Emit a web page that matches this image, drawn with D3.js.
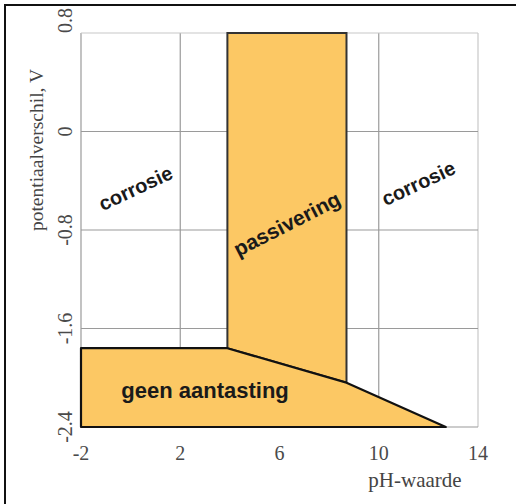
<!DOCTYPE html>
<html lang="nl">
<head>
    <meta charset="UTF-8">
    <title>Pourbaix diagram</title>
    <script src="https://cdnjs.cloudflare.com/ajax/libs/d3/7.8.5/d3.min.js"></script>
    <style>
        body { margin: 0; background: #fff; }
        svg { display: block; }
    </style>
</head>
<body>
    <div id="chart"></div>
    <script>
        // Data
        const xTicks = [-2, 2, 6, 10, 14];
        const yTicks = [0.8, 0, -0.8, -1.6, -2.4];
        const yTickLabels = ["0.8", "0", "-0.8", "-1.6", "-2.4"];

        // regions [pH, V]
        const passivering = [[3.9, 0.8], [8.7, 0.8], [8.7, -2.04], [3.9, -1.76]];
        const geenAantasting = [[-2, -1.76], [3.9, -1.76], [8.7, -2.04], [12.7, -2.4], [-2, -2.4]];

        const labels = [
            { text: "corrosie", x: 0.2, y: -0.46, angle: -25, size: 20 },
            { text: "corrosie", x: 11.6, y: -0.42, angle: -25, size: 20 },
            { text: "passivering", x: 6.3, y: -0.75, angle: -27, size: 21 },
            { text: "geen aantasting", x: 3.0, y: -2.1, angle: 0, size: 22 }
        ];

        const W = 516, H = 504;
        const svg = d3.select("#chart").append("svg")
            .attr("width", W)
            .attr("height", H);

        // outer frame (cut off on right and bottom)
        svg.append("rect")
            .attr("x", 5).attr("y", 5)
            .attr("width", 600).attr("height", 600)
            .attr("fill", "none")
            .attr("stroke", "#111")
            .attr("stroke-width", 2);

        const x = d3.scaleLinear().domain([-2, 14]).range([81, 478]);
        const y = d3.scaleLinear().domain([-2.4, 0.8]).range([427, 33]);

        // grid
        svg.append("g").selectAll("line")
            .data(xTicks).enter().append("line")
            .attr("x1", d => x(d)).attr("x2", d => x(d))
            .attr("y1", y(0.8)).attr("y2", y(-2.4))
            .attr("stroke", d => d === 14 ? "#c8c8c8" : "#9a9a9a")
            .attr("stroke-width", 1.2);

        svg.append("g").selectAll("line")
            .data(yTicks).enter().append("line")
            .attr("x1", x(-2)).attr("x2", x(14))
            .attr("y1", d => y(d)).attr("y2", d => y(d))
            .attr("stroke", d => d === 0.8 ? "#c8c8c8" : "#9a9a9a")
            .attr("stroke-width", 1.2);

        // regions
        const line = d3.line().x(d => x(d[0])).y(d => y(d[1])).curve(d3.curveLinearClosed);
        const fill = "#fcc864";

        svg.append("path")
            .datum(passivering)
            .attr("d", line)
            .attr("fill", fill)
            .attr("stroke", "#333")
            .attr("stroke-width", 2);

        svg.append("path")
            .datum(geenAantasting)
            .attr("d", line)
            .attr("fill", fill)
            .attr("stroke", "#111")
            .attr("stroke-width", 2.2)
            .attr("stroke-linejoin", "round");

        // region labels
        svg.append("g").selectAll("text")
            .data(labels).enter().append("text")
            .attr("transform", d => `translate(${x(d.x)},${y(d.y)}) rotate(${d.angle})`)
            .attr("text-anchor", "middle")
            .attr("dy", "0.35em")
            .attr("font-family", "Liberation Sans, Arial, sans-serif")
            .attr("font-weight", "bold")
            .attr("font-size", d => d.size)
            .attr("fill", "#1a1a1a")
            .text(d => d.text);

        // x tick labels
        svg.append("g").selectAll("text")
            .data(xTicks).enter().append("text")
            .attr("x", d => x(d))
            .attr("y", 460)
            .attr("text-anchor", "middle")
            .attr("font-family", "Liberation Serif, Times New Roman, serif")
            .attr("font-size", 20)
            .attr("fill", "#4a4a4a")
            .text(d => d);

        // y tick labels (rotated)
        svg.append("g").selectAll("text")
            .data(yTicks).enter().append("text")
            .attr("transform", d => `translate(72,${y(d)}) rotate(-90)`)
            .attr("text-anchor", d => d === 0.8 ? "start" : "middle")
            .attr("font-family", "Liberation Serif, Times New Roman, serif")
            .attr("font-size", 20)
            .attr("fill", "#4a4a4a")
            .text((d, i) => yTickLabels[i]);

        // axis titles
        svg.append("text")
            .attr("x", 415)
            .attr("y", 487)
            .attr("text-anchor", "middle")
            .attr("font-family", "Liberation Serif, Times New Roman, serif")
            .attr("font-size", 21)
            .attr("fill", "#444")
            .text("pH-waarde");

        svg.append("text")
            .attr("transform", "translate(43,150) rotate(-90)")
            .attr("text-anchor", "middle")
            .attr("font-family", "Liberation Serif, Times New Roman, serif")
            .attr("font-size", 19.5)
            .attr("fill", "#444")
            .text("potentiaalverschil, V");
    </script>
</body>
</html>
